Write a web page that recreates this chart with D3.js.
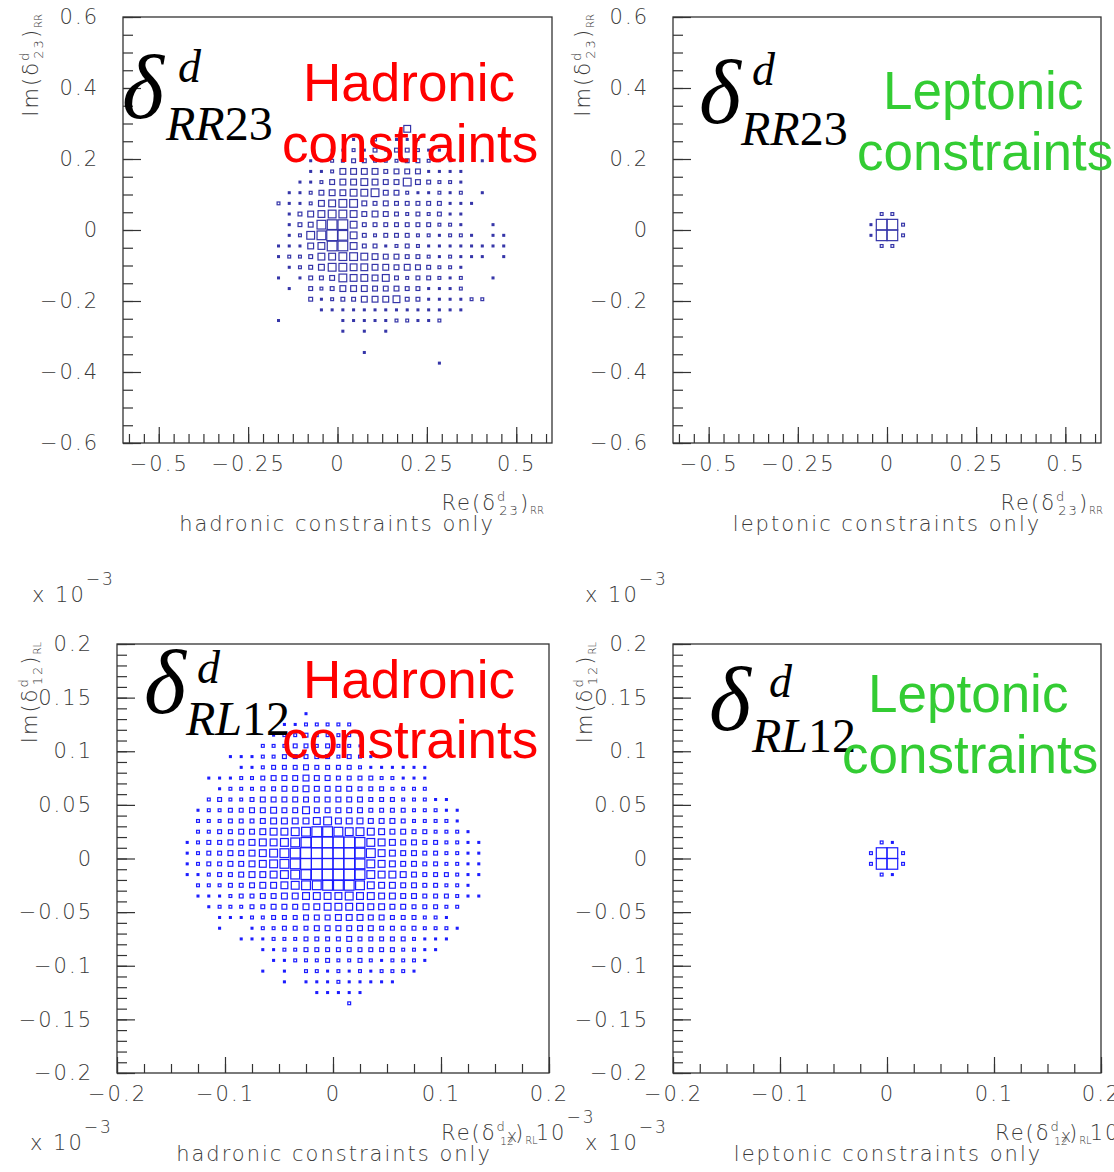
<!DOCTYPE html>
<html>
<head>
<meta charset="utf-8">
<script src="https://cdn.jsdelivr.net/npm/d3@7"></script>
<style>
body { margin: 0; background: #fff; }
svg { display: block; background: #fff; }
.axis text, .atitle { font-family: "DejaVu Sans", sans-serif; font-weight: 200; font-size: 21px; fill: #3a3a3a; letter-spacing: 2px; }
.axis line { stroke: #333; stroke-width: 1.2; }
.axis .domain { display: none; }
.frame { fill: none; stroke: #333; stroke-width: 1.3; }
.greek { font-family: "Liberation Serif", "Times New Roman", serif; fill: #000; }
.note { font-family: "Liberation Sans", Arial, sans-serif; font-size: 53px; }
</style>
</head>
<body>
<svg id="chart" width="1114" height="1172"></svg>
<script>
// box contents per bin, top row first, one hex digit per bin (0 empty, a = full bin)
var hadRR23Rows = [
  "0000000000006000000000",
  "0000000102011100000000",
  "0000011213133211000000",
  "0001122332223321110100",
  "0001125555344411110000",
  "0011245565447432210000",
  "0112455667442112120100",
  "2112567743433333111000",
  "0135677645432323110000",
  "0134899633333332210010",
  "01278a9632333221221011",
  "1115699633123211111111",
  "1223667765443321211101",
  "0123577665545432210000",
  "1013347665632332120010",
  "0103235554443311120000",
  "0003123355563311112200",
  "0000111111111111110000",
  "1000001111122112000000",
  "0000001010100000000000",
  "0000000000000000000000",
  "0000000010000000000000",
  "0000000000000001000000"
];
var hadRR23FirstX = -0.165, hadRR23FirstY = 0.285;

var lepRR23Rows = ["0220", "1aa2", "1aa2", "0220"];
var lepRR23FirstX = -0.045, lepRR23FirstY = 0.045;

var hadRL12Rows = [
  "0000000000010000000000000000",
  "0000000001122222000000000000",
  "0000000012232222100000000000",
  "0000000222332322100000000000",
  "0000111223333323211000000000",
  "0000011233343333211111100000",
  "0011122344454433332211100000",
  "0001222334454444333222200000",
  "0023223444444444433322211000",
  "0122334454464444433332221100",
  "0222333455556755544432222100",
  "0223344566789987765443322210",
  "123344566789aaaa976544332211",
  "12334456789aaaaa986544332211",
  "12334456789aaaaa976544332211",
  "112334556789aaaa976654333211",
  "0222334556788999865544332210",
  "0111233445566667665544333211",
  "0012223344455666655443332200",
  "0001112233344455544333221000",
  "0001001223334444443333222100",
  "0000011122233334333332111000",
  "0000000112233333333322110000",
  "0000000011222322321222100000",
  "0000000101022121212221000000",
  "0000000001011121111100000000",
  "0000000000001111100000000000",
  "0000000000000002000000000000"
];
var hadRL12FirstX = -0.135, hadRL12FirstY = 0.135;

var lepRL12Rows = ["0210", "2aa2", "2aa2", "0210"];
var lepRL12FirstX = -0.015, lepRL12FirstY = 0.015;

var rrBin = 0.03, rlBin = 0.01;
var rrDomain = [-0.6, 0.6], rlDomain = [-0.2, 0.2];
var rrYLabels = [-0.6, -0.4, -0.2, 0, 0.2, 0.4, 0.6];
var rrXLabels = [-0.5, -0.25, 0, 0.25, 0.5];
var rlYLabels = [-0.2, -0.15, -0.1, -0.05, 0, 0.05, 0.1, 0.15, 0.2];
var rlXLabels = [-0.2, -0.1, 0, 0.1, 0.2];
var rrYMinor = d3.range(-12, 13).map(function (k) { return k * 0.05; });
var rrXMinor = d3.range(-14, 15).map(function (k) { return k * 0.25 / 6; });
var rlYMinor = d3.range(-20, 21).map(function (k) { return k * 0.01; });
var rlXMinor = d3.range(-8, 9).map(function (k) { return k * 0.025; });

var svg = d3.select("#chart");

var fmt = function (d) {
  if (d === 0) return "0";
  return (d < 0 ? "\u2212" : "") + Math.abs(d);
};

// fraction of the bin covered by a box of a given level
var boxSide = d3.scaleLinear().domain([1, 10]).range([0.17, 1]);

function drawPanel(p) {
  var g = svg.append("g");
  var x = d3.scaleLinear().domain(p.domain).range([p.left, p.right]);
  var y = d3.scaleLinear().domain(p.domain).range([p.bottom, p.top]);
  var cw = x(p.bin) - x(0), ch = y(0) - y(p.bin);

  var cells = [];
  p.rows.forEach(function (row, i) {
    row.split("").forEach(function (c, j) {
      var v = parseInt(c, 16);
      if (v > 0) cells.push({ cx: p.firstX + j * p.bin, cy: p.firstY - i * p.bin, v: v });
    });
  });

  g.append("g").selectAll("rect")
    .data(cells)
    .enter()
    .append("rect")
    .attr("x", function (d) { return x(d.cx) - boxSide(d.v) * cw / 2; })
    .attr("y", function (d) { return y(d.cy) - boxSide(d.v) * ch / 2; })
    .attr("width", function (d) { return boxSide(d.v) * cw; })
    .attr("height", function (d) { return boxSide(d.v) * ch; })
    .attr("fill", function (d) { return d.v < 2 ? p.color : "none"; })
    .attr("stroke", p.color)
    .attr("stroke-width", 1.2);

  g.append("rect").attr("class", "frame")
    .attr("x", p.left).attr("y", p.top)
    .attr("width", p.right - p.left).attr("height", p.bottom - p.top);

  g.append("g").attr("class", "axis").attr("transform", "translate(" + p.left + ",0)")
    .call(d3.axisLeft(y).tickValues(p.yMinor).tickSize(-10).tickFormat(""));
  g.append("g").attr("class", "axis").attr("transform", "translate(" + p.left + ",0)")
    .call(d3.axisLeft(y).tickValues(p.yLabels).tickSize(-18).tickPadding(24).tickFormat(fmt));
  g.append("g").attr("class", "axis").attr("transform", "translate(0," + p.bottom + ")")
    .call(d3.axisBottom(x).tickValues(p.xMinor).tickSize(-9).tickFormat(""));
  g.append("g").attr("class", "axis").attr("transform", "translate(0," + p.bottom + ")")
    .call(d3.axisBottom(x).tickValues(p.xLabels).tickSize(-16).tickPadding(13).tickFormat(fmt));

  // y axis title, rotated
  var yt = g.append("text").attr("class", "atitle").attr("text-anchor", "end")
    .attr("transform", "translate(" + p.yTitle[0] + "," + p.yTitle[1] + ") rotate(-90)");
  yt.append("tspan").text("Im(\u03b4");
  yt.append("tspan").attr("font-size", 13).attr("dy", -9).text("d");
  yt.append("tspan").attr("font-size", 13).attr("dx", -8).attr("dy", 14).text(p.idx);
  yt.append("tspan").attr("dy", -5).text(")");
  yt.append("tspan").attr("font-size", 10).attr("dy", 4).style("letter-spacing", "0px").text(p.chir);

  // x axis title
  var xt = g.append("text").attr("class", "atitle")
    .attr("x", p.xTitle[0]).attr("y", p.xTitle[1])
    .attr("text-anchor", p.exp ? "start" : "end");
  xt.append("tspan").text("Re(\u03b4");
  xt.append("tspan").attr("font-size", 13).attr("dy", -9).text("d");
  if (p.exp) {
    xt.append("tspan").attr("font-size", 11).attr("dx", -7).attr("dy", 14).style("letter-spacing", "0px").text(p.idx);
    xt.append("tspan").attr("font-size", 17).attr("dx", -7).attr("dy", -3).text("x");
    xt.append("tspan").attr("dx", -4).attr("dy", -2).text(")");
    xt.append("tspan").attr("font-size", 10).attr("dy", 4).style("letter-spacing", "0px").text(p.chir);
    xt.append("tspan").attr("dx", -2).attr("dy", -4).text("10");
    xt.append("tspan").attr("font-size", 17).attr("dy", -17).text("\u22123");
  } else {
    xt.append("tspan").attr("font-size", 13).attr("dx", -8).attr("dy", 14).text(p.idx);
    xt.append("tspan").attr("dy", -5).text(")");
    xt.append("tspan").attr("font-size", 10).attr("dy", 4).style("letter-spacing", "0px").text(p.chir);
  }

  // caption under the axis
  g.append("text").attr("class", "atitle").attr("text-anchor", "middle")
    .attr("x", p.caption[0]).attr("y", p.caption[1]).text(p.captionText);

  // multiplier labels
  (p.mult || []).forEach(function (m) {
    var t = g.append("text").attr("class", "atitle").attr("x", m[0]).attr("y", m[1]);
    t.append("tspan").text("x 10");
    t.append("tspan").attr("font-size", 17).attr("dy", -17).text("\u22123");
  });

  // big delta symbol
  var gk = g.append("g").attr("class", "greek");
  gk.append("text").attr("x", p.delta[0]).attr("y", p.delta[1])
    .attr("font-size", 90).attr("font-style", "italic").text("\u03b4");
  gk.append("text").attr("x", p.deltaSup[0]).attr("y", p.deltaSup[1])
    .attr("font-size", 46).attr("font-style", "italic").text("d");
  var sb = gk.append("text").attr("x", p.deltaSub[0]).attr("y", p.deltaSub[1]).attr("font-size", 48);
  sb.append("tspan").attr("font-style", "italic").text(p.chir);
  sb.append("tspan").text(p.idx);

  // coloured note
  g.append("text").attr("class", "note").attr("fill", p.noteColor)
    .attr("x", p.note1[0]).attr("y", p.note1[1]).text(p.noteText);
  g.append("text").attr("class", "note").attr("fill", p.noteColor)
    .attr("x", p.note2[0]).attr("y", p.note2[1]).text("constraints");
}

var red = "#ff0000", green = "#33cc33";

drawPanel({
  rows: hadRR23Rows, firstX: hadRR23FirstX, firstY: hadRR23FirstY, bin: rrBin, color: "#3535a8",
  domain: rrDomain, left: 123, right: 552, top: 17, bottom: 443,
  yLabels: rrYLabels, yMinor: rrYMinor, xLabels: rrXLabels, xMinor: rrXMinor,
  idx: "23", chir: "RR", yTitle: [38, 14], xTitle: [544, 510],
  caption: [337, 531], captionText: "hadronic constraints only",
  delta: [122, 118], deltaSup: [178, 82], deltaSub: [166, 140],
  noteColor: red, noteText: "Hadronic", note1: [303, 101], note2: [282, 162]
});

drawPanel({
  rows: lepRR23Rows, firstX: lepRR23FirstX, firstY: lepRR23FirstY, bin: rrBin, color: "#3535a8",
  domain: rrDomain, left: 673, right: 1101, top: 17, bottom: 443,
  yLabels: rrYLabels, yMinor: rrYMinor, xLabels: rrXLabels, xMinor: rrXMinor,
  idx: "23", chir: "RR", yTitle: [590, 14], xTitle: [1103, 510],
  caption: [887, 531], captionText: "leptonic constraints only",
  delta: [699, 123], deltaSup: [752, 85], deltaSub: [741, 145],
  noteColor: green, noteText: "Leptonic", note1: [883, 109], note2: [857, 170]
});

drawPanel({
  rows: hadRL12Rows, firstX: hadRL12FirstX, firstY: hadRL12FirstY, bin: rlBin, color: "#1c1cff",
  domain: rlDomain, left: 117, right: 549, top: 644, bottom: 1073,
  yLabels: rlYLabels, yMinor: rlYMinor, xLabels: rlXLabels, xMinor: rlXMinor,
  idx: "12", chir: "RL", yTitle: [37, 642], xTitle: [441, 1140], exp: true,
  caption: [334, 1161], captionText: "hadronic constraints only",
  mult: [[32, 602], [30, 1150]],
  delta: [144, 713], deltaSup: [197, 683], deltaSub: [186, 735],
  noteColor: red, noteText: "Hadronic", note1: [303, 698], note2: [282, 758]
});

drawPanel({
  rows: lepRL12Rows, firstX: lepRL12FirstX, firstY: lepRL12FirstY, bin: rlBin, color: "#1c1cff",
  domain: rlDomain, left: 673, right: 1101, top: 644, bottom: 1073,
  yLabels: rlYLabels, yMinor: rlYMinor, xLabels: rlXLabels, xMinor: rlXMinor,
  idx: "12", chir: "RL", yTitle: [592, 642], xTitle: [995, 1140], exp: true,
  caption: [888, 1161], captionText: "leptonic constraints only",
  mult: [[585, 602], [585, 1150]],
  delta: [709, 730], deltaSup: [769, 697], deltaSub: [752, 752],
  noteColor: green, noteText: "Leptonic", note1: [868, 712], note2: [842, 773]
});
</script>
</body>
</html>
